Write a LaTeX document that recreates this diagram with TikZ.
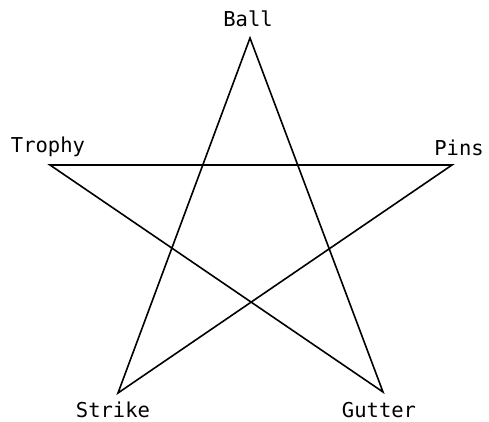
\documentclass[tikz,border=0pt]{standalone}
\usepackage{fontspec}
\newfontfamily\plotfont{DejaVu Sans Mono}
\usepackage{tikz}
\usetikzlibrary{positioning}
\tikzset{
  word/.style  = {font=\plotfont\fontsize{20.5}{22}\selectfont, inner sep=0pt, anchor=base},
  starline/.style = {line width=1.6pt, line join=miter},
}

\begin{document}
\begin{tikzpicture}[x=1pt, y=-1pt]
  \useasboundingbox (0,0) rectangle (489,422);

  % Star points
  \coordinate (ball)   at (250, 38);
  \coordinate (trophy) at ( 50,165);
  \coordinate (pins)   at (452,165);
  \coordinate (strike) at (118,393);
  \coordinate (gutter) at (383,392);

  % Labels
  \node[word] (lball)   at (248, 27) {Ball};
  \node[word] (ltrophy) at ( 48,153) {Trophy};
  \node[word] (lpins)   at (459,155) {Pins};
  \node[word] (lstrike) at (113,417) {Strike};
  \node[word] (lgutter) at (379,417) {Gutter};

  % Pentagram
  \draw[starline] (ball)--(strike)--(pins)--(trophy)--(gutter)--cycle;
\end{tikzpicture}
\end{document}
